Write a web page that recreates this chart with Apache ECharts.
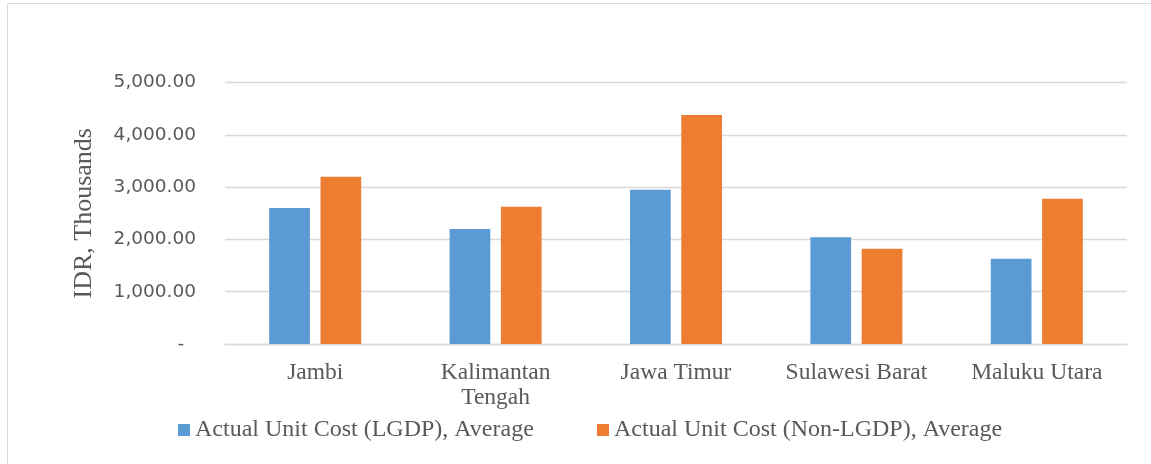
<!DOCTYPE html>
<html>
<head>
<meta charset="utf-8">
<script src="https://cdn.jsdelivr.net/npm/echarts@6/dist/echarts.min.js"></script>
<style>
html,body{margin:0;padding:0;background:#fff;}
#c{width:1151px;height:464px;}
</style>
</head>
<body>
<div id="c"></div>
<script>
var categories = ['Jambi', 'Kalimantan\nTengah', 'Jawa Timur', 'Sulawesi Barat', 'Maluku Utara'];
var seriesNames = ['Actual Unit Cost (LGDP), Average', 'Actual Unit Cost (Non-LGDP), Average'];
var lgdpValues = [2600, 2200, 2950, 2040, 1630];
var nonLgdpValues = [3200, 2625, 4380, 1820, 2775];
var yTicks = [0, 1000, 2000, 3000, 4000, 5000];
var axisTitle = 'IDR, Thousands';

function fmt(v) {
  if (v === 0) return '-  ';
  var s = v.toFixed(2);
  var parts = s.split('.');
  parts[0] = parts[0].replace(/\B(?=(\d{3})+(?!\d))/g, ',');
  return parts.join('.');
}

var chart = echarts.init(document.getElementById('c'), null, {renderer: 'canvas'});
var serif = 'Liberation Serif, Times New Roman, serif';
chart.setOption({
  animation: false,
  backgroundColor: '#ffffff',
  graphic: [
    {type: 'line', shape: {x1: 7.5, y1: 3.5, x2: 7.5, y2: 464}, style: {stroke: '#d9d9d9', lineWidth: 1}},
    {type: 'line', shape: {x1: 7.5, y1: 3.5, x2: 1151, y2: 3.5}, style: {stroke: '#d9d9d9', lineWidth: 1}}
  ],
  grid: {left: 225, right: 24, top: 82.5, bottom: 120, containLabel: false},
  legend: [
    {
      data: [seriesNames[0]], left: 178, top: 418, padding: 0,
      itemWidth: 12, itemHeight: 12, icon: 'rect',
      textStyle: {fontFamily: serif, fontSize: 24, color: '#595959'}
    },
    {
      data: [seriesNames[1]], left: 597, top: 418, padding: 0,
      itemWidth: 12, itemHeight: 12, icon: 'rect',
      textStyle: {fontFamily: serif, fontSize: 24, color: '#595959'}
    }
  ],
  xAxis: {
    type: 'category',
    data: categories,
    axisLine: {lineStyle: {color: '#d9d9d9', width: 1.3}},
    axisTick: {show: false},
    axisLabel: {fontFamily: serif, fontSize: 23.5, color: '#595959', margin: 16, lineHeight: 25, interval: 0}
  },
  yAxis: {
    type: 'value',
    min: yTicks[0],
    max: yTicks[yTicks.length - 1],
    interval: yTicks[1] - yTicks[0],
    name: axisTitle,
    nameLocation: 'middle',
    nameGap: 128,
    nameTextStyle: {fontFamily: serif, fontSize: 26, color: '#595959'},
    axisLine: {show: false},
    axisTick: {show: false},
    splitLine: {lineStyle: {color: '#d9d9d9', width: 1.3}},
    axisLabel: {
      fontFamily: 'DejaVu Sans, sans-serif', fontSize: 18.5, color: '#595959', margin: 29,
      formatter: fmt
    }
  },
  series: [
    {
      name: seriesNames[0], type: 'bar', data: lgdpValues,
      itemStyle: {color: '#5b9bd5'},
      barGap: '26%', barCategoryGap: '49%'
    },
    {
      name: seriesNames[1], type: 'bar', data: nonLgdpValues,
      itemStyle: {color: '#ed7d31'},
      barGap: '26%', barCategoryGap: '49%'
    }
  ]
});
</script>
</body>
</html>
